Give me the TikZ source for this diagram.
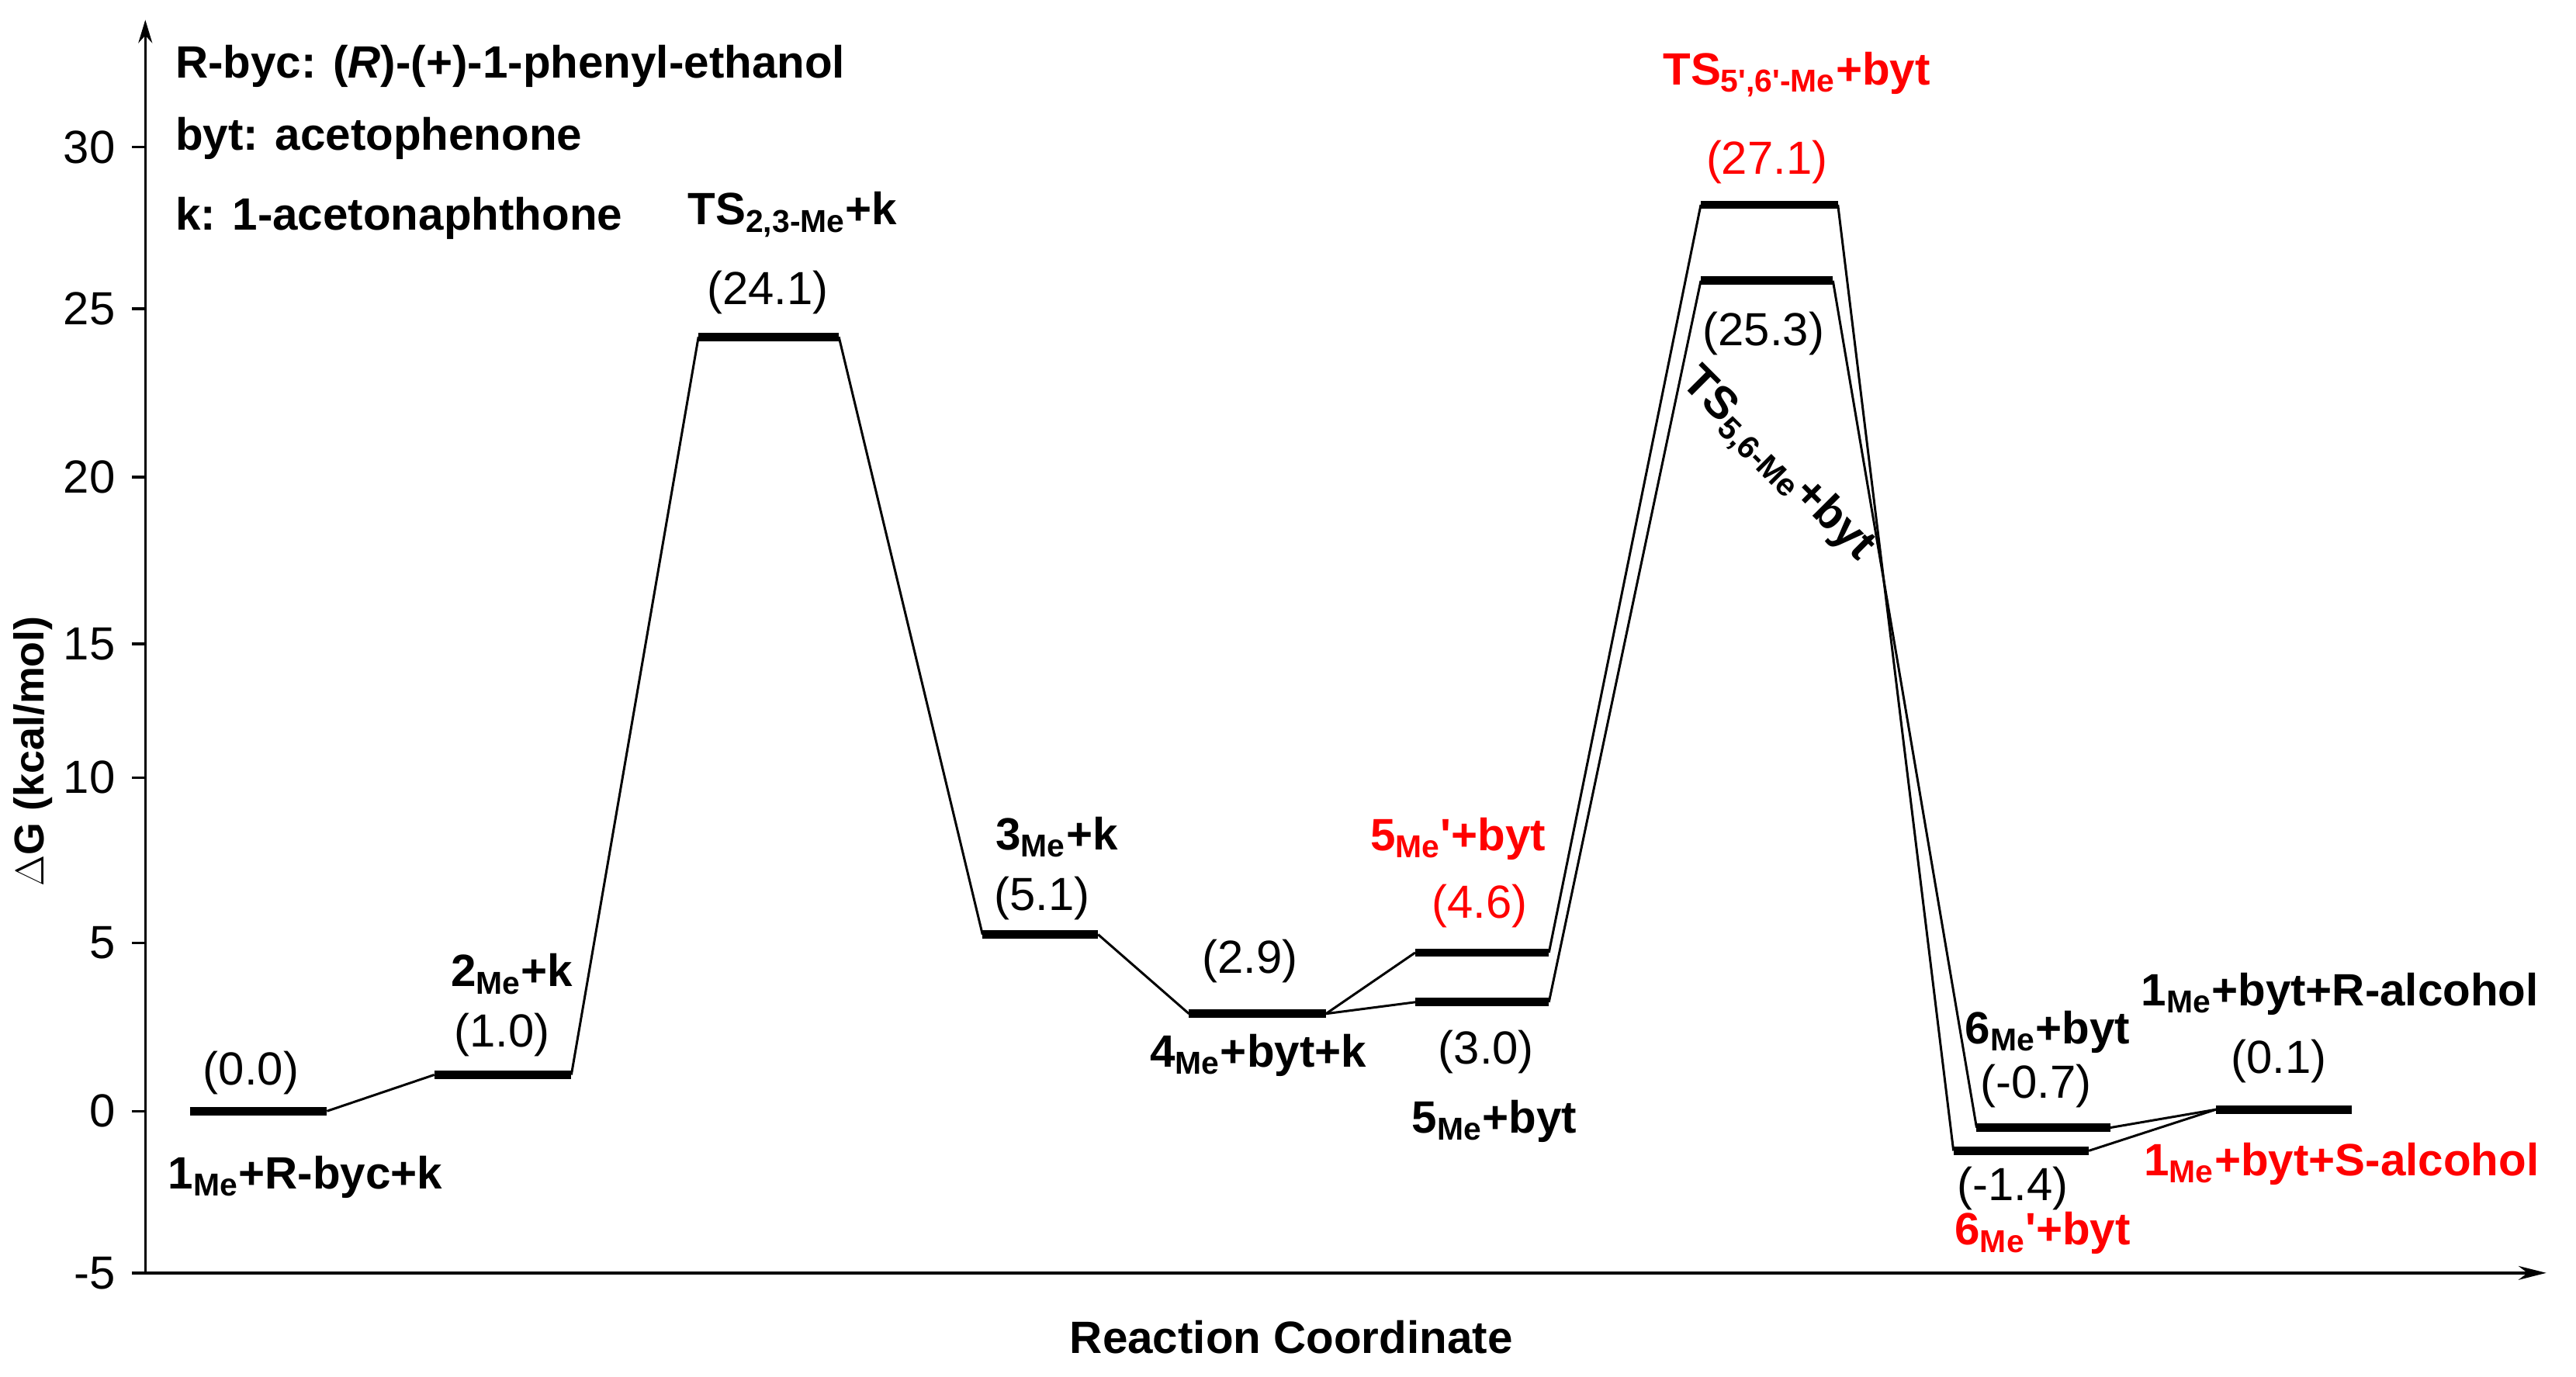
\documentclass[tikz,border=0pt]{standalone}
\usepackage{fontspec}
\setmainfont{Liberation Sans}
\usetikzlibrary{arrows.meta}
\definecolor{myred}{RGB}{255,0,0}
\newcommand{\pr}{\textquotesingle}
\begin{document}
\begin{tikzpicture}[x=0.025cm,y=-0.025cm,
  lvl/.style={line width=3.6pt},
  con/.style={line width=1pt},
  lab/.style={font=\fontsize{19.5}{23}\selectfont\bfseries,inner sep=0pt},
  val/.style={font=\fontsize{20}{23}\selectfont,inner sep=0pt},
  red/.style={text=myred}]
\useasboundingbox (0,0) rectangle (1560,834);
% axes
\coordinate (yb) at (88,771); \coordinate (yt) at (88,12);
\coordinate (xe) at (1542,771); \coordinate (xs) at (80,771);
\draw[line width=1.1pt,-{Stealth[length=10pt,width=6pt]}] (yb) -- (yt);
\draw[line width=1.1pt,-{Stealth[length=12pt,width=6pt]}] (xs) -- (xe);
\foreach \v/\y in {30/89,25/187,20/289,15/390,10/471,5/571,0/673,-5/771}{
  \draw[line width=1.1pt] (80,\y) -- (88,\y);
  \node[val,anchor=east] at (70,\y) {\v};
}
\node[lab,rotate=90,font=\fontsize{18}{21}\selectfont\bfseries] at (20,455) {$\Delta$G (kcal/mol)};
\node[lab] at (782,810) {Reaction Coordinate};
% legend
\node[lab,anchor=west] at (106,40) {R-byc: (\textit{R})-(+)-1-phenyl-ethanol};
\node[lab,anchor=west] at (106,84) {byt: acetophenone};
\node[lab,anchor=west] at (106,132) {k: 1-acetonaphthone};
% levels
\draw[lvl] (115,673) coordinate (a1) -- (198,673) coordinate (a2);
\draw[lvl] (263,651) coordinate (b1) -- (346,651) coordinate (b2);
\draw[lvl] (423,204) coordinate (c1) -- (508,204) coordinate (c2);
\draw[lvl] (595,566) coordinate (d1) -- (665,566) coordinate (d2);
\draw[lvl] (720,614) coordinate (e1) -- (803,614) coordinate (e2);
\draw[lvl] (857,577) coordinate (f1) -- (938,577) coordinate (f2);
\draw[lvl] (857,607) coordinate (g1) -- (938,607) coordinate (g2);
\draw[lvl] (1030,124) coordinate (h1) -- (1113,124) coordinate (h2);
\draw[lvl] (1030,170) coordinate (i1) -- (1110,170) coordinate (i2);
\draw[lvl] (1197,683) coordinate (j1) -- (1278,683) coordinate (j2);
\draw[lvl] (1183,697) coordinate (k1) -- (1265,697) coordinate (k2);
\draw[lvl] (1342,672) coordinate (l1) -- (1424,672) coordinate (l2);
% connectors
\draw[con] (a2) -- (b1);
\draw[con] (b2) -- (c1);
\draw[con] (c2) -- (d1);
\draw[con] (d2) -- (e1);
\draw[con] (e2) -- (f1);
\draw[con] (e2) -- (g1);
\draw[con] (f2) -- (h1);
\draw[con] (g2) -- (i1);
\draw[con] (h2) -- (k1);
\draw[con] (i2) -- (j1);
\draw[con] (j2) -- (l1);
\draw[con] (k2) -- (l1);
% labels
\node[val] at (152,650) {(0.0)};
\node[lab] at (185,713) {1\textsubscript{Me}+R-byc+k};
\node[lab] at (310,590) {2\textsubscript{Me}+k};
\node[val] at (304,627) {(1.0)};
\node[lab] at (480,130) {TS\textsubscript{2,3-Me}+k};
\node[val] at (465,177) {(24.1)};
\node[lab] at (640,507) {3\textsubscript{Me}+k};
\node[val] at (631,544) {(5.1)};
\node[val] at (757,582) {(2.9)};
\node[lab] at (762,639) {4\textsubscript{Me}+byt+k};
\node[lab,red] at (883,508) {5\textsubscript{Me}\pr+byt};
\node[val,red] at (896,549) {(4.6)};
\node[val] at (900,637) {(3.0)};
\node[lab] at (905,679) {5\textsubscript{Me}+byt};
\node[lab,red] at (1088,45) {TS\textsubscript{5\pr,6\pr-Me}+byt};
\node[val,red] at (1070,98) {(27.1)};
\node[val] at (1068,202) {(25.3)};
\node[lab,rotate=-45] at (1076,282) {TS\textsubscript{5,6-Me}+byt};
\node[lab] at (1240,625) {6\textsubscript{Me}+byt};
\node[val] at (1233,658) {(-0.7)};
\node[val] at (1219,720) {(-1.4)};
\node[lab,red] at (1237,747) {6\textsubscript{Me}\pr+byt};
\node[lab] at (1417,602) {1\textsubscript{Me}+byt+R-alcohol};
\node[val] at (1380,643) {(0.1)};
\node[lab,red] at (1418,705) {1\textsubscript{Me}+byt+S-alcohol};
\end{tikzpicture}
\end{document}
